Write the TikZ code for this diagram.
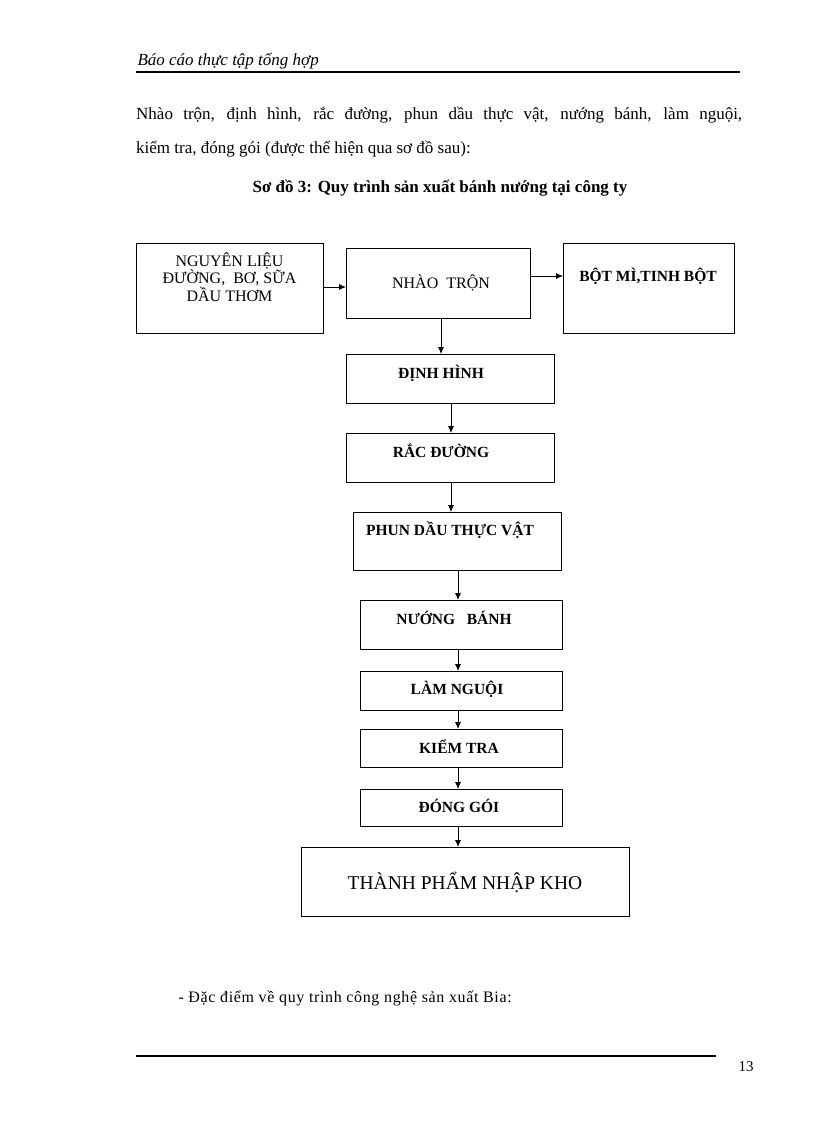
\documentclass[tikz,border=0pt]{standalone}
\usepackage{fontspec}
\setmainfont{Liberation Serif}
\usetikzlibrary{arrows.meta}
\begin{document}
\begin{tikzpicture}[x=1pt,y=-1pt,
 bx/.style={draw,line width=0.9pt,anchor=north west},
 lb/.style={font=\fontsize{15.5}{16}\selectfont\bfseries},
 arr/.style={-{Latex[length=7pt,width=6pt]},line width=0.8pt}]
\useasboundingbox[fill=white] (0,0) rectangle (816,1123);
\node[anchor=base west,font=\fontsize{17}{18}\selectfont\itshape] (hd) at (134,66) {Báo cáo thực tập tổng hợp};
\draw[line width=1.4pt] (136,72) -- (740,72);
\node[anchor=base west,text width=606pt,align=justify,inner sep=0pt,font=\fontsize{17}{34}\selectfont] (par) at (136,120) {Nhào trộn, định hình, rắc đường, phun dầu thực vật, nướng bánh, làm nguội,\linebreak kiểm tra, đóng gói (được thể hiện qua sơ đồ sau):};
\node[anchor=base,font=\fontsize{17}{18}\selectfont\bfseries] (tt) at (440,193) {Sơ đồ 3: Quy trình sản xuất bánh nướng tại công ty};

\node[bx,minimum width=187pt,minimum height=90pt] (nl) at (136,243) {};
\node[align=center,font=\fontsize{16}{14}\selectfont] at (229.5,277) {NGUYÊN LIỆU\\ĐƯỜNG,\ \ BƠ, SỮA\\DẦU THƠM};
\node[bx,minimum width=184pt,minimum height=70pt] (nt) at (346,248) {};
\node[font=\fontsize{16}{16}\selectfont] at (441,283) {NHÀO\ \ TRỘN};
\node[bx,minimum width=171pt,minimum height=90pt] (bm) at (563,243) {};
\node[lb] at (648,276) {BỘT MÌ,TINH BỘT};
\node[bx,minimum width=208pt,minimum height=49pt] (dh) at (346,354) {};
\node[lb] at (441,373) {ĐỊNH HÌNH};
\node[bx,minimum width=208pt,minimum height=49pt] (rd) at (346,433) {};
\node[lb] at (441,451) {RẮC ĐƯỜNG};
\node[bx,minimum width=208pt,minimum height=58pt] (pd) at (353,512) {};
\node[lb] at (450,530) {PHUN DẦU THỰC VẬT};
\node[bx,minimum width=202pt,minimum height=49pt] (nb) at (360,600) {};
\node[lb] at (454,618) {NƯỚNG\ \ \ BÁNH};
\node[bx,minimum width=202pt,minimum height=39pt] (ln) at (360,671) {};
\node[lb] at (457,689) {LÀM NGUỘI};
\node[bx,minimum width=202pt,minimum height=38pt] (kt) at (360,729) {};
\node[lb] at (459,747) {KIỂM TRA};
\node[bx,minimum width=202pt,minimum height=37pt] (dg) at (360,789) {};
\node[lb] at (459,806) {ĐÓNG GÓI};
\node[bx,minimum width=328pt,minimum height=69pt] (tp) at (301,847) {};
\node[font=\fontsize{19.5}{20}\selectfont] at (465,882) {THÀNH PHẨM NHẬP KHO};

\draw[arr] (nl.east|-0,287) -- (nt.west|-0,287);
\draw[arr] (nt.east|-0,276) -- (bm.west|-0,276);
\draw[arr] (441,318) -- (441,354);
\draw[arr] (451,403) -- (451,433);
\draw[arr] (451,482) -- (451,512);
\draw[arr] (458,570) -- (458,600);
\draw[arr] (458,649) -- (458,671);
\draw[arr] (458,710) -- (458,729);
\draw[arr] (458,767) -- (458,789);
\draw[arr] (458,826) -- (458,847);

\node[anchor=base west,font=\fontsize{16}{16}\selectfont\addfontfeature{LetterSpace=4}] (bia) at (175,1002) {- Đặc điểm về quy trình công nghệ sản xuất Bia:};
\draw[line width=1.4pt] (136,1056) -- (716,1056);
\node[anchor=base,font=\fontsize{15}{16}\selectfont] (pg) at (746,1071) {13};
\end{tikzpicture}
\end{document}
